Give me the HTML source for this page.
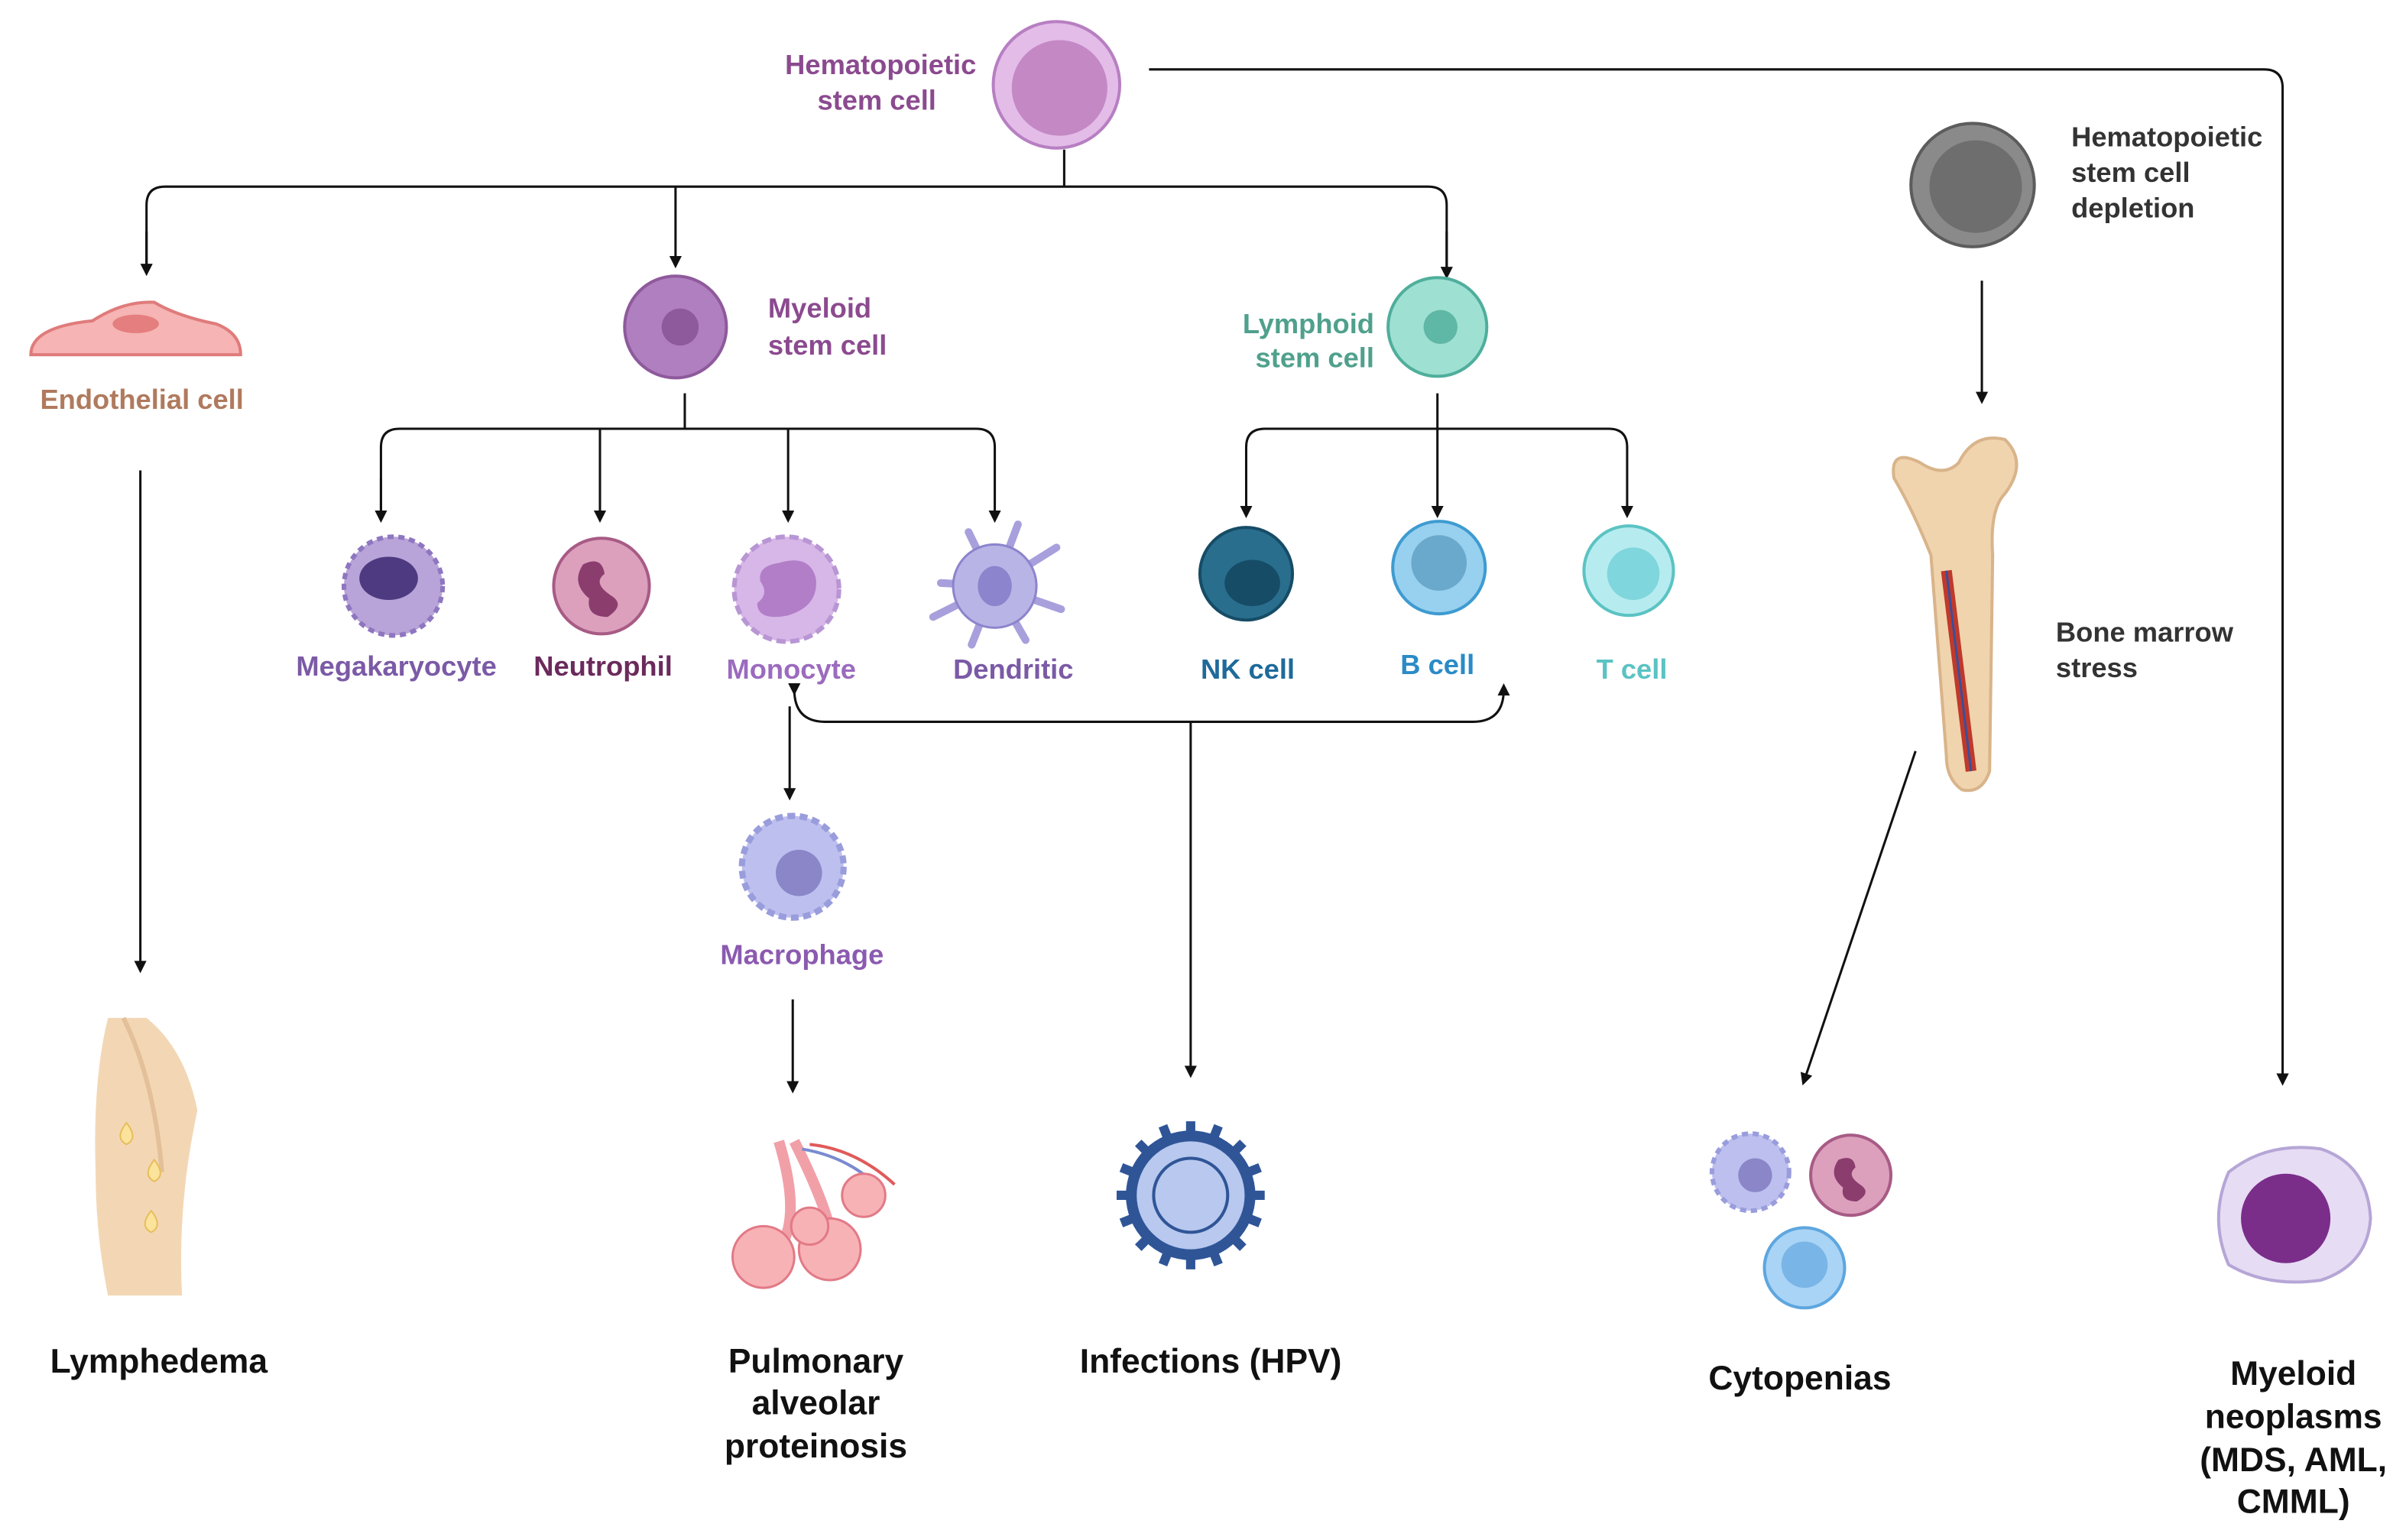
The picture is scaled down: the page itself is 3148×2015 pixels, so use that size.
<!DOCTYPE html>
<html><head><meta charset="utf-8"><style>
html,body{margin:0;padding:0;background:#fff;}
svg{display:block;}
text{font-family:"Liberation Sans",sans-serif;font-weight:bold;}
</style></head><body>
<svg width="3148" height="2015" viewBox="0 0 1560 998.5" preserveAspectRatio="none" xmlns="http://www.w3.org/2000/svg">
<defs>
<marker id="a" markerWidth="8" markerHeight="8" refX="4" refY="4" orient="auto" markerUnits="userSpaceOnUse"><path d="M0,0 L8,4 L0,8 z" fill="#111"/></marker>
</defs>
<g fill="none" stroke="#111" stroke-width="1.5">
<!-- HSC to neoplasms -->
<path d="M745,45 H1468 Q1480,45 1480,57 V700" marker-end="url(#a)"/>
<!-- HSC tree -->
<path d="M690,97 V121"/>
<path d="M95,175 V133 Q95,121 107,121 H926 Q938,121 938,133 V176" />
<path d="M95,150 V175" marker-end="url(#a)"/>
<path d="M938,150 V177" marker-end="url(#a)"/>
<path d="M438,121 V170" marker-end="url(#a)"/>
<!-- endothelial -->
<path d="M91,305 V627" marker-end="url(#a)"/>
<!-- myeloid tree -->
<path d="M444,255 V278"/>
<path d="M247,335 V290 Q247,278 259,278 H633 Q645,278 645,290 V335" marker-end="url(#a)"/>
<path d="M247,310 V335" marker-end="url(#a)"/>
<path d="M389,278 V335" marker-end="url(#a)"/>
<path d="M511,278 V335" marker-end="url(#a)"/>
<!-- lymphoid tree -->
<path d="M932,255 V332" marker-end="url(#a)"/>
<path d="M808,332 V290 Q808,278 820,278 H1043 Q1055,278 1055,290 V332" marker-end="url(#a)"/>
<path d="M808,310 V332" marker-end="url(#a)"/>
<!-- monocyte -> macrophage -->
<path d="M512,458 V515" marker-end="url(#a)"/>
<path d="M514,648 V705" marker-end="url(#a)"/>
<!-- bidirectional -->
<path d="M515,447 Q515,468 535,468 H955 Q975,468 975,447" marker-start="url(#a)" marker-end="url(#a)"/>
<path d="M772,468 V695" marker-end="url(#a)"/>
<!-- right side -->
<path d="M1285,182 V258" marker-end="url(#a)"/>
<path d="M1242,487 L1170,700" marker-end="url(#a)"/>
</g>

<!-- HSC -->
<circle cx="685" cy="55" r="41" fill="#e3bce8" stroke="#b77fc2" stroke-width="2"/>
<circle cx="687" cy="57" r="31" fill="#c488c5"/>
<text x="633" y="48" font-size="18" fill="#8b4a8f" text-anchor="end">Hematopoietic</text>
<text x="607" y="71" font-size="18" fill="#8b4a8f" text-anchor="end">stem cell</text>

<!-- Endothelial -->
<path d="M20,230 Q20,212 60,208 Q80,195 100,196 Q115,205 140,210 Q156,216 156,230 Z" fill="#f6b4b4" stroke="#e07b7b" stroke-width="2"/>
<ellipse cx="88" cy="210" rx="15" ry="6" fill="#e57e7e"/>
<text x="92" y="265" font-size="18" fill="#b07a5e" text-anchor="middle">Endothelial cell</text>

<!-- Myeloid -->
<circle cx="438" cy="212" r="33" fill="#b07fbf" stroke="#8e5a9c" stroke-width="2"/>
<circle cx="441" cy="212" r="12" fill="#8e5a9c"/>
<text x="498" y="206" font-size="18" fill="#8b4a8f">Myeloid</text>
<text x="498" y="230" font-size="18" fill="#8b4a8f">stem cell</text>

<!-- Lymphoid -->
<circle cx="932" cy="212" r="32" fill="#9ee0d2" stroke="#4fae9c" stroke-width="2"/>
<circle cx="934" cy="212" r="11" fill="#5fb7a5"/>
<text x="891" y="216" font-size="18" fill="#4fa08c" text-anchor="end">Lymphoid</text>
<text x="891" y="238" font-size="18" fill="#4fa08c" text-anchor="end">stem cell</text>

<!-- cells -->
<circle cx="255" cy="380" r="32" fill="#b8a4d8" stroke="#8e76c0" stroke-width="3" stroke-dasharray="4 3"/>
<ellipse cx="252" cy="375" rx="19" ry="14" fill="#4d3a80"/>
<circle cx="390" cy="380" r="31" fill="#dca0bc" stroke="#a75b85" stroke-width="2"/>
<path d="M378,366 q12,-6 14,6 q-8,6 4,14 q10,6 -2,14 q-14,0 -12,-12 q-12,-10 -4,-22z" fill="#8b3d6e"/>
<circle cx="510" cy="382" r="34" fill="#d7b6e8" stroke="#b896d4" stroke-width="3" stroke-dasharray="6 3"/>
<path d="M505,365 q20,-6 24,10 q2,18 -18,24 q-20,4 -20,-8 q8,-6 2,-14 q-2,-10 12,-12z" fill="#b27ec8"/>
<g stroke="#a7a0dc" stroke-width="5" stroke-linecap="round"><path d="M645,380 L610,378 M645,380 L628,345 M645,380 L660,340 M645,380 L685,355 M645,380 L688,395 M645,380 L665,415 M645,380 L630,418 M645,380 L605,400"/></g>
<circle cx="645" cy="380" r="27" fill="#b9b4e6" stroke="#8c84cc" stroke-width="1.5"/>
<ellipse cx="645" cy="380" rx="11" ry="13" fill="#8c84cc"/>
<circle cx="808" cy="372" r="30" fill="#2a6e8e" stroke="#164c66" stroke-width="2"/>
<ellipse cx="812" cy="378" rx="18" ry="15" fill="#164c66"/>
<circle cx="933" cy="368" r="30" fill="#98d0ef" stroke="#3e9bd0" stroke-width="2"/>
<circle cx="933" cy="365" r="18" fill="#6aa9cc"/>
<circle cx="1056" cy="370" r="29" fill="#b6ecf0" stroke="#5bc3c3" stroke-width="2"/>
<circle cx="1059" cy="372" r="17" fill="#7fd6dc"/>
<g font-size="18" text-anchor="middle">
<text x="257" y="438" fill="#7b5aa6">Megakaryocyte</text>
<text x="391" y="438" fill="#6b2a5c">Neutrophil</text>
<text x="513" y="440" fill="#9b6bbf">Monocyte</text>
<text x="657" y="440" fill="#7b5aa6">Dendritic</text>
<text x="809" y="440" fill="#1e6a9a">NK cell</text>
<text x="932" y="437" fill="#2a8bc7">B cell</text>
<text x="1058" y="440" fill="#5bc3c3">T cell</text>
<text x="520" y="625" fill="#8b5ab0">Macrophage</text>
</g>

<!-- Macrophage -->
<circle cx="514" cy="562" r="33" fill="#bdbfef" stroke="#9a9ddc" stroke-width="4" stroke-dasharray="5 3"/>
<circle cx="518" cy="566" r="15" fill="#8a86c8"/>

<!-- lungs -->
<path d="M505,740 Q520,790 505,810 M515,740 Q540,790 540,810" stroke="#f1a0a8" stroke-width="7" fill="none"/>
<path d="M520,745 Q550,750 570,770" stroke="#7a8bd0" stroke-width="2" fill="none"/>
<path d="M525,742 Q555,745 580,768" stroke="#e05a5a" stroke-width="2" fill="none"/>
<g fill="#f7b2b6" stroke="#e27a86" stroke-width="1.5">
<circle cx="495" cy="815" r="20"/><circle cx="538" cy="810" r="20"/><circle cx="560" cy="775" r="14"/><circle cx="525" cy="795" r="12"/>
</g>

<!-- virus -->
<g stroke="#2f5597" stroke-width="6">
<path d="M772,727 V823 M724,775 H820 M738,741 L806,809 M806,741 L738,809 M754,730 L790,820 M790,730 L754,820 M727,757 L817,793 M727,793 L817,757"/>
</g>
<circle cx="772" cy="775" r="42" fill="#2f5597"/>
<circle cx="772" cy="775" r="35" fill="#b8c8ee"/>
<circle cx="772" cy="775" r="24" fill="none" stroke="#2f5597" stroke-width="2"/>

<!-- leg -->
<path d="M70,660 Q60,700 62,760 Q62,800 70,840 L118,840 Q115,780 128,720 Q120,680 95,660 Z" fill="#f3d7b5"/>
<path d="M80,660 Q100,700 105,760" stroke="#e3c09a" stroke-width="3" fill="none"/>
<g fill="#fbe39b" stroke="#e7bd5c"><path d="M82,728 q-8,10 0,14 q8,-4 0,-14z"/><path d="M100,752 q-8,10 0,14 q8,-4 0,-14z"/><path d="M98,785 q-8,10 0,14 q8,-4 0,-14z"/></g>

<!-- HSC depletion -->
<circle cx="1279" cy="120" r="40" fill="#8a8a8a" stroke="#5c5c5c" stroke-width="2"/>
<circle cx="1281" cy="121" r="30" fill="#6e6e6e"/>
<g font-size="18" fill="#333">
<text x="1343" y="95">Hematopoietic</text><text x="1343" y="118">stem cell</text><text x="1343" y="141">depletion</text>
<text x="1333" y="416">Bone marrow</text><text x="1333" y="439">stress</text>
</g>
<!-- bone -->
<path d="M1228,310 Q1225,290 1245,300 Q1260,310 1270,300 Q1280,280 1300,285 Q1315,300 1300,320 Q1290,330 1292,360 L1290,500 Q1285,515 1272,512 Q1262,505 1262,490 L1252,360 Q1240,330 1228,310Z" fill="#f0d4ae" stroke="#d9b48a" stroke-width="2"/>
<path d="M1262,370 L1278,500" stroke="#c0392b" stroke-width="7"/>
<path d="M1262,370 L1278,500" stroke="#3b4e9a" stroke-width="1.5"/>

<!-- cytopenias -->
<circle cx="1135" cy="760" r="25" fill="#bdbfef" stroke="#9a9ddc" stroke-width="3" stroke-dasharray="4 3"/>
<circle cx="1138" cy="762" r="11" fill="#8a86c8"/>
<circle cx="1200" cy="762" r="26" fill="#dca0bc" stroke="#a75b85" stroke-width="2"/>
<path d="M1192,752 q10,-4 11,5 q-6,5 3,11 q8,5 -2,11 q-11,0 -9,-9 q-10,-8 -3,-18z" fill="#8b3d6e"/>
<circle cx="1170" cy="822" r="26" fill="#a9d4f5" stroke="#5ea6df" stroke-width="2"/>
<circle cx="1170" cy="820" r="15" fill="#79b5e6"/>

<!-- myeloid neoplasm -->
<path d="M1445,760 Q1470,740 1505,745 Q1535,755 1537,790 Q1535,820 1505,830 Q1470,835 1445,820 Q1432,790 1445,760Z" fill="#e6dcf4" stroke="#b6a6d6" stroke-width="2"/>
<circle cx="1482" cy="790" r="29" fill="#7b2d8a"/>

<!-- bottom labels -->
<g font-size="22" fill="#111" text-anchor="middle">
<text x="103" y="890">Lymphedema</text>
<text x="529" y="890">Pulmonary</text><text x="529" y="917">alveolar</text><text x="529" y="945">proteinosis</text>
<text x="785" y="890">Infections (HPV)</text>
<text x="1167" y="901">Cytopenias</text>
<text x="1487" y="898">Myeloid</text><text x="1487" y="926">neoplasms</text><text x="1487" y="954">(MDS, AML,</text><text x="1487" y="981">CMML)</text>
</g>
</svg>
</body></html>
